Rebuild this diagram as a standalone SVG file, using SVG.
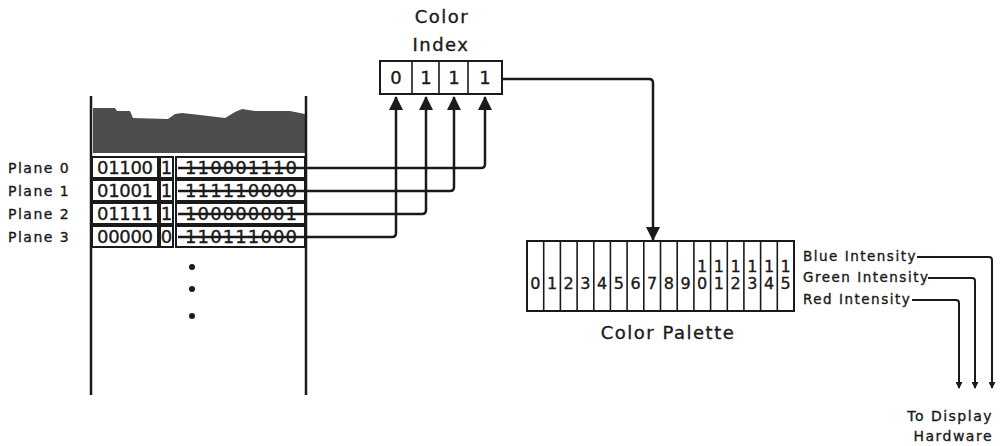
<svg xmlns="http://www.w3.org/2000/svg" width="1000" height="446" viewBox="0 0 1000 446">
<style>
  text { font-family: "DejaVu Sans", "Liberation Sans", sans-serif; fill: #1a1a1a; stroke: #1a1a1a; stroke-width: 0.35px; }
  .lbl { font-size: 14px; letter-spacing: 1.5px; }
  .title { font-size: 18px; letter-spacing: 1.5px; }
  .bits { font-size: 18px; }
  .pd { font-size: 16px; text-anchor: middle; }
  .box { fill: #fff; stroke: #1a1a1a; stroke-width: 2; }
  .div { stroke: #1a1a1a; stroke-width: 1.6; }
  .wire { fill: none; stroke: #1a1a1a; stroke-width: 2.5; }
  .thin { fill: none; stroke: #1a1a1a; stroke-width: 2; }
</style>
<defs>
  <marker id="arr" markerUnits="userSpaceOnUse" markerWidth="14" markerHeight="14" viewBox="0 0 14 14" refX="13" refY="7" orient="auto">
    <path d="M0,0 L14,7 L0,14 z" fill="#1a1a1a"/>
  </marker>
  <marker id="sarr" markerUnits="userSpaceOnUse" markerWidth="7" markerHeight="7" viewBox="0 0 7 7" refX="6" refY="3.5" orient="auto">
    <path d="M0,0 L7,3.5 L0,7 z" fill="#1a1a1a"/>
  </marker>
</defs>

<g id="bitplanes">
  <path d="M93,108 L115,108 L117,111 L130,111 L133,118 L168,119 L175,114 L182,113 L200,115 L225,118 L235,112 L242,109 L255,111 L290,111 L305,114 L305,153 L93,153 Z" fill="#4d4d4d"/>
  <line x1="91" y1="96" x2="91" y2="395" class="wire"/>
  <line x1="306" y1="96" x2="306" y2="395" class="wire"/>
  <circle cx="192" cy="267" r="3" fill="#1a1a1a"/>
  <circle cx="192" cy="289" r="3" fill="#1a1a1a"/>
  <circle cx="192" cy="316" r="3" fill="#1a1a1a"/>
</g>

<g id="plane0">
  <text x="8" y="172.5" class="lbl">Plane 0</text>
  <rect x="92" y="157" width="66" height="21" class="box"/>
  <rect x="160" y="157" width="13" height="21" class="box"/>
  <rect x="176" y="157" width="129" height="21" class="box"/>
  <text x="97" y="174" class="bits" textLength="56">01100</text>
  <text x="166.5" y="174" class="bits" text-anchor="middle">1</text>
  <text x="185" y="174" class="bits" textLength="112">110001110</text>
</g>
<g id="plane1">
  <text x="8" y="195.5" class="lbl">Plane 1</text>
  <rect x="92" y="180" width="66" height="21" class="box"/>
  <rect x="160" y="180" width="13" height="21" class="box"/>
  <rect x="176" y="180" width="129" height="21" class="box"/>
  <text x="97" y="197" class="bits" textLength="56">01001</text>
  <text x="166.5" y="197" class="bits" text-anchor="middle">1</text>
  <text x="185" y="197" class="bits" textLength="112">111110000</text>
</g>
<g id="plane2">
  <text x="8" y="218.5" class="lbl">Plane 2</text>
  <rect x="92" y="203" width="66" height="21" class="box"/>
  <rect x="160" y="203" width="13" height="21" class="box"/>
  <rect x="176" y="203" width="129" height="21" class="box"/>
  <text x="97" y="220" class="bits" textLength="56">01111</text>
  <text x="166.5" y="220" class="bits" text-anchor="middle">1</text>
  <text x="185" y="220" class="bits" textLength="112">100000001</text>
</g>
<g id="plane3">
  <text x="8" y="241.5" class="lbl">Plane 3</text>
  <rect x="92" y="226" width="66" height="21" class="box"/>
  <rect x="160" y="226" width="13" height="21" class="box"/>
  <rect x="176" y="226" width="129" height="21" class="box"/>
  <text x="97" y="243" class="bits" textLength="56">00000</text>
  <text x="166.5" y="243" class="bits" text-anchor="middle">0</text>
  <text x="185" y="243" class="bits" textLength="112">110111000</text>
</g>

<g id="color-index">
  <text x="442" y="23" class="title" text-anchor="middle">Color</text>
  <text x="441" y="51" class="title" text-anchor="middle">Index</text>
  <rect x="380" y="61" width="122" height="33" class="box"/>
  <line x1="412" y1="61" x2="412" y2="94" class="div"/>
  <line x1="439" y1="61" x2="439" y2="94" class="div"/>
  <line x1="468" y1="61" x2="468" y2="94" class="div"/>
  <text x="396" y="84" class="bits" text-anchor="middle">0</text>
  <text x="426" y="84" class="bits" text-anchor="middle">1</text>
  <text x="454" y="84" class="bits" text-anchor="middle">1</text>
  <text x="485" y="84" class="bits" text-anchor="middle">1</text>
</g>

<g id="color-palette">
  <rect x="527" y="241" width="267" height="70" class="box"/>
  <g class="div">
    <line x1="543.7" y1="241" x2="543.7" y2="311"/>
    <line x1="560.4" y1="241" x2="560.4" y2="311"/>
    <line x1="577.1" y1="241" x2="577.1" y2="311"/>
    <line x1="593.8" y1="241" x2="593.8" y2="311"/>
    <line x1="610.4" y1="241" x2="610.4" y2="311"/>
    <line x1="627.1" y1="241" x2="627.1" y2="311"/>
    <line x1="643.8" y1="241" x2="643.8" y2="311"/>
    <line x1="660.5" y1="241" x2="660.5" y2="311"/>
    <line x1="677.2" y1="241" x2="677.2" y2="311"/>
    <line x1="693.9" y1="241" x2="693.9" y2="311"/>
    <line x1="710.6" y1="241" x2="710.6" y2="311"/>
    <line x1="727.3" y1="241" x2="727.3" y2="311"/>
    <line x1="743.9" y1="241" x2="743.9" y2="311"/>
    <line x1="760.6" y1="241" x2="760.6" y2="311"/>
    <line x1="777.3" y1="241" x2="777.3" y2="311"/>
  </g>
  <text x="535.3" y="289" class="pd">0</text>
  <text x="552.0" y="289" class="pd">1</text>
  <text x="568.7" y="289" class="pd">2</text>
  <text x="585.4" y="289" class="pd">3</text>
  <text x="602.1" y="289" class="pd">4</text>
  <text x="618.8" y="289" class="pd">5</text>
  <text x="635.5" y="289" class="pd">6</text>
  <text x="652.2" y="289" class="pd">7</text>
  <text x="668.9" y="289" class="pd">8</text>
  <text x="685.6" y="289" class="pd">9</text>
  <text x="702.2" y="289" class="pd">0</text>
  <text x="702.2" y="272" class="pd">1</text>
  <text x="718.9" y="289" class="pd">1</text>
  <text x="718.9" y="272" class="pd">1</text>
  <text x="735.6" y="289" class="pd">2</text>
  <text x="735.6" y="272" class="pd">1</text>
  <text x="752.3" y="289" class="pd">3</text>
  <text x="752.3" y="272" class="pd">1</text>
  <text x="769.0" y="289" class="pd">4</text>
  <text x="769.0" y="272" class="pd">1</text>
  <text x="785.7" y="289" class="pd">5</text>
  <text x="785.7" y="272" class="pd">1</text>
  <text x="668" y="339" class="title" text-anchor="middle">Color Palette</text>
  <text x="803" y="261" class="lbl" style="font-size:13.5px">Blue Intensity</text>
  <text x="803" y="282" class="lbl" style="font-size:13.5px">Green Intensity</text>
  <text x="803" y="304" class="lbl" style="font-size:13.5px">Red Intensity</text>
</g>

<g id="display-hardware">
  <text x="993" y="421" class="lbl" text-anchor="end">To Display</text>
  <text x="993" y="441" class="lbl" text-anchor="end">Hardware</text>
</g>

<g id="connectors">
  <path d="M178,168 H481 Q485,168 485,164 V97" class="wire" marker-end="url(#arr)"/>
  <path d="M178,191 H450 Q454,191 454,187 V97" class="wire" marker-end="url(#arr)"/>
  <path d="M178,214 H422 Q426,214 426,210 V97" class="wire" marker-end="url(#arr)"/>
  <path d="M178,237 H392 Q396,237 396,233 V97" class="wire" marker-end="url(#arr)"/>
  <path d="M502,79 H649 Q653,79 653,83 V240" class="wire" marker-end="url(#arr)"/>
  <path d="M917,257 H989 Q992,257 992,260 V388" class="thin" marker-end="url(#sarr)"/>
  <path d="M928,278 H972 Q975,278 975,281 V388" class="thin" marker-end="url(#sarr)"/>
  <path d="M912,300 H956 Q959,300 959,303 V388" class="thin" marker-end="url(#sarr)"/>
</g>
</svg>
